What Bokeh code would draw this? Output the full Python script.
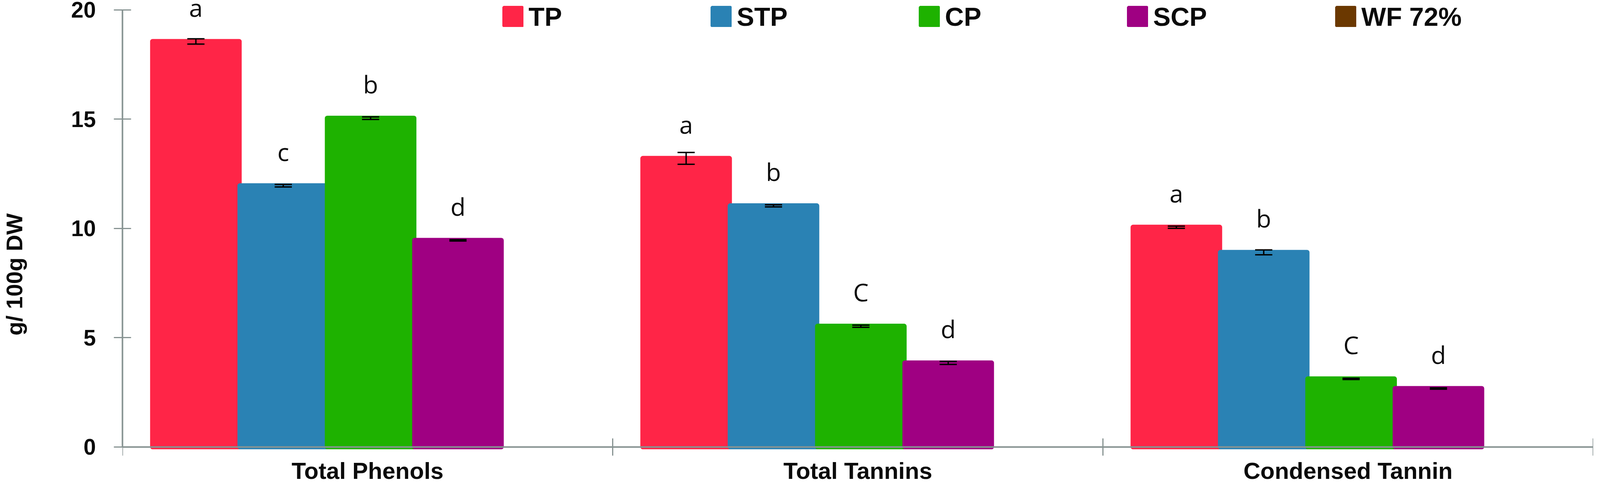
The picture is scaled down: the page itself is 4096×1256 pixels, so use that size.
import math
from bokeh.plotting import figure
from bokeh.models import (ColumnDataSource, Range1d, FixedTicker, Whisker, TeeHead,
                          LabelSet, Legend, LegendItem)
from bokeh.transform import dodge
from bokeh.embed import file_html
from bokeh.resources import INLINE
from bokeh.core.properties import value

# ---------------- data ----------------
categories = ["Total Phenols", "Total Tannins", "Condensed Tannin"]
series = ["TP", "STP", "CP", "SCP", "WF 72%"]
TP = [18.55, 13.2, 10.05]
STP = [11.95, 11.03, 8.9]
CP = [15.04, 5.52, 3.11]
SCP = [9.45, 3.84, 2.67]
WF72 = [float("nan"), float("nan"), float("nan")]
TP_err = [0.12, 0.27, 0.05]
STP_err = [0.06, 0.05, 0.11]
CP_err = [0.06, 0.05, 0.03]
SCP_err = [0.03, 0.07, 0.03]
TP_sig = ["a", "a", "a"]
STP_sig = ["c", "b", "b"]
CP_sig = ["b", "C", "C"]
SCP_sig = ["d", "d", "d"]
y_ticks = [0, 5, 10, 15, 20]
y_title = "g/ 100g DW"

values = [TP, STP, CP, SCP, WF72]
errors = [TP_err, STP_err, CP_err, SCP_err, None]
sigs = [TP_sig, STP_sig, CP_sig, SCP_sig, None]
colors = ["#FF2547", "#2A82B4", "#1EB200", "#9F0082", "#6B3800"]

# ---------------- layout ----------------
W, H = 4080, 1240
LEFT, RIGHT, TOP, BOTTOM = 313, 2, 2, 0
Y0_PX, Y20_PX = 1142.5, 24.5          # where 0 and 20 sit on the canvas
ppu = (Y0_PX - Y20_PX) / 20.0
y_hi = 20 + (Y20_PX - TOP) / ppu
y_lo = -(H - BOTTOM - Y0_PX) / ppu
frame_h = H - TOP - BOTTOM
AX = "#879392"
TXT = "#0b0b0b"
BOLD = "'Liberation Sans', Arial, sans-serif"
LETTER = "Open Sans"

p = figure(width=W, height=H, x_range=Range1d(0, len(categories)), y_range=Range1d(y_lo, y_hi),
           output_backend="svg", toolbar_location=None,
           min_border_left=LEFT, min_border_right=RIGHT, min_border_top=TOP,
           min_border_bottom=BOTTOM)
p.outline_line_color = None
p.xgrid.visible = False
p.ygrid.visible = False
p.background_fill_color = "white"

xc = [i + 0.5 for i in range(len(categories))]
slot = 0.1782
first = -0.3502
bar_w = 0.1767
lw = 12.7

renderers = []
for k, name in enumerate(series):
    off = first + k * slot
    vals = values[k]
    data = dict(xc=xc, top=vals)
    if errors[k] is not None:
        data["upper"] = [v + e for v, e in zip(vals, errors[k])]
        data["lower"] = [v - e for v, e in zip(vals, errors[k])]
        data["sig"] = sigs[k]
    src = ColumnDataSource(data)
    r = p.vbar(x=dodge("xc", off), top="top", bottom=0, width=bar_w, source=src,
               fill_color=colors[k], line_color=colors[k], line_width=lw, line_join="round")
    renderers.append(r)
    if errors[k] is not None:
        wk = Whisker(base=dodge("xc", off), upper="upper", lower="lower", source=src,
                     dimension="height", line_color="black", line_width=3.5,
                     upper_head=TeeHead(size=44, line_color="black", line_width=3.5),
                     lower_head=TeeHead(size=44, line_color="black", line_width=3.5),
                     level="overlay")
        p.add_layout(wk)
        ls = LabelSet(x=dodge("xc", off), y="top", text="sig", source=src,
                      y_offset=63, text_align="center", text_baseline="alphabetic",
                      text_font=value(LETTER), text_font_size=value("63px"),
                      text_color=value(TXT))
        p.add_layout(ls)

# ---------------- axes ----------------
xa = p.xaxis[0]
xa.fixed_location = 0
xa.ticker = FixedTicker(ticks=xc, minor_ticks=list(range(len(categories) + 1)))
xa.major_label_overrides = {x: c for x, c in zip(xc, categories)}
xa.axis_line_color = AX
xa.axis_line_width = 4
xa.major_tick_line_color = None
xa.major_tick_in = 0
xa.major_tick_out = 0
xa.minor_tick_line_color = AX
xa.minor_tick_line_width = 3
xa.minor_tick_in = 22
xa.minor_tick_out = 22
xa.major_label_standoff = 6
xa.major_label_text_font = BOLD
xa.major_label_text_font_style = "bold"
xa.major_label_text_font_size = "60px"
xa.major_label_text_color = TXT

ya = p.yaxis[0]
ya.bounds = (0, 20)
ya.ticker = FixedTicker(ticks=y_ticks)
ya.axis_line_color = AX
ya.axis_line_width = 4
ya.major_tick_line_color = AX
ya.major_tick_line_width = 3
ya.major_tick_in = 22
ya.major_tick_out = 22
ya.minor_tick_line_color = None
ya.major_label_standoff = 46
ya.major_label_text_font = BOLD
ya.major_label_text_font_style = "bold"
ya.major_label_text_font_size = "57px"
ya.major_label_text_color = TXT
# the reference title sits below the axis centre: pad its end with no-break spaces
ya.axis_label = y_title + "\u00a0" * 10
ya.axis_label_standoff = 110
ya.axis_label_text_font = BOLD
ya.axis_label_text_font_style = "bold"
ya.axis_label_text_font_size = "58px"
ya.axis_label_text_color = TXT

# ---------------- legend ----------------
GLYPH = 54
LABEL_H = 76
item_top = 4.6
items = [LegendItem(label=s, renderers=[r]) for s, r in zip(series, renderers)]
legend = Legend(items=items, orientation="horizontal",
                location=(973, frame_h - (item_top - TOP) - LABEL_H),
                glyph_width=GLYPH, glyph_height=GLYPH, label_standoff=13, label_width=466,
                spacing=0, padding=0, margin=0, border_line_color=None,
                background_fill_alpha=0, label_text_font=BOLD,
                label_text_font_style="bold", label_text_font_size="67px",
                label_text_color=TXT, label_height=LABEL_H)
p.add_layout(legend, "center")

open("out.html", "w").write(file_html(p, INLINE))
